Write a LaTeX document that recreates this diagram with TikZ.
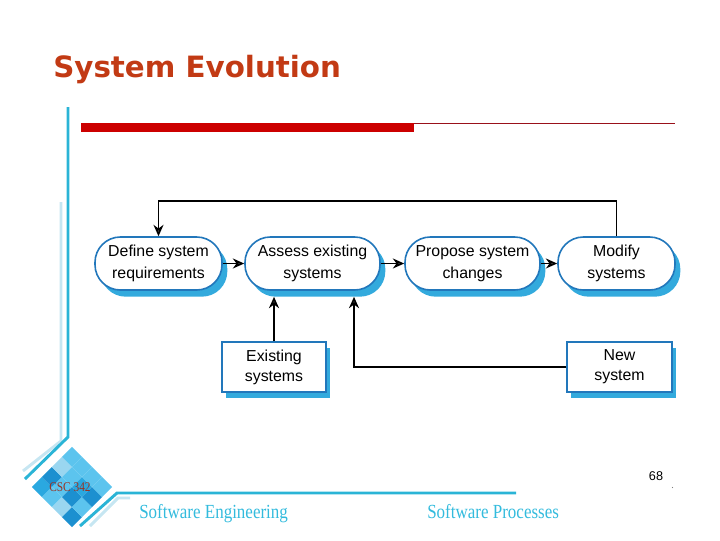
\documentclass[tikz,border=0pt]{standalone}
\usepackage{fontspec}
\setmainfont{Liberation Sans}
\newfontfamily\titlefont{DejaVu Sans}
\newfontfamily\footfont[FakeStretch=0.85]{Liberation Serif}
\usetikzlibrary{arrows.meta,shadows,calc}
\definecolor{titlec}{HTML}{C23A14}
\definecolor{barred}{HTML}{CC0000}
\definecolor{thinred}{HTML}{99111A}
\definecolor{bordc}{HTML}{2277BB}
\definecolor{shadc}{HTML}{33AADD}
\definecolor{decoc}{HTML}{2AB4D6}
\definecolor{decol}{HTML}{C6E6F2}
\definecolor{footc}{HTML}{33BBDD}
\definecolor{cscc}{HTML}{993322}
\definecolor{mos0}{HTML}{2AA8E0}
\definecolor{mos1}{HTML}{5CC4EE}
\definecolor{mos2}{HTML}{9AD6F0}
\definecolor{mos3}{HTML}{1C90D0}
\tikzset{
  proc/.style={draw=bordc, line width=1.2pt, fill=white, rounded corners=19pt,
    minimum height=39.75pt, align=center, inner sep=2pt,
    font=\fontsize{11.9}{16.2}\selectfont,
    drop shadow={shadow xshift=4pt, shadow yshift=-5pt, fill=shadc, opacity=1}},
  sysbox/.style={draw=bordc, line width=1pt, fill=white,
    minimum height=37.5pt, align=center, inner sep=2pt,
    font=\fontsize{11.9}{15}\selectfont,
    drop shadow={shadow xshift=3pt, shadow yshift=-4.5pt, fill=shadc, opacity=1}},
  conn/.style={line width=1.3pt, draw=black},
  arr/.style={conn, -{Stealth[open, length=8.5pt, width=7.5pt]}},
  foot/.style={text=footc, font=\footfont\fontsize{15}{15}\selectfont, inner sep=0pt}
}
\begin{document}
\begin{tikzpicture}[x=0.75pt,y=-0.75pt]
\useasboundingbox (0,0) rectangle (720,540);

% title
\node[anchor=base west, inner sep=0pt, text=titlec, font=\titlefont\bfseries\fontsize{22}{22}\selectfont] (title) at (53,77) {System Evolution};

% red bar
\fill[barred] (81,123) rectangle (414,132);
\draw[thinred, line width=0.8pt] (414,123.5) -- (675,123.5);

% left decoration
\draw[decol, line width=2.2pt] (61,202) -- (61,441) -- (23,471);
\draw[decoc, line width=2.2pt] (68,107) -- (68,437) -- (25,479);
\draw[decol, line width=2.2pt] (130,498) -- (118,498) -- (90,526);
\draw[decoc, line width=2.2pt] (516,493) -- (117,493) -- (80,526);

% mosaic diamond
\begin{scope}[shift={(72,487)}, rotate=45]
  \foreach \i in {0,...,3} {
    \foreach \j in {0,...,3} {
      \pgfmathtruncatemacro\k{mod(\i*3+\j*5+\i*\j,4)}
      \fill[mos\k] (-28.3+\i*14.15,-28.3+\j*14.15) rectangle ++(14.15,14.15);
    }
  }
\end{scope}
\node[text=cscc, font=\footfont\fontsize{10}{10}\selectfont, inner sep=0pt] (csc) at (70,487) {CSC 342};

% footer
\node[foot, anchor=base west] (fse) at (139,518) {Software Engineering};
\node[foot, anchor=base west] (fsp) at (427,518) {Software Processes};
\node[anchor=base, inner sep=0pt, font=\fontsize{9.5}{9.5}\selectfont] (pg) at (656,480) {68};
\fill[gray] (672.5,487.5) circle (0.7);

% process nodes
\node[proc, minimum width=95.25pt] (n1) at (158.5,263.5) {Define system\\requirements};
\node[proc, minimum width=101.25pt] (n2) at (312.5,263.5) {Assess existing\\systems};
\node[proc, minimum width=101.25pt] (n3) at (472.5,263.5) {Propose system\\changes};
\node[proc, minimum width=87.75pt] (n4) at (616.5,263.5) {Modify\\systems};

\node[sysbox, minimum width=78pt] (ex) at (274,367) {Existing\\systems};
\node[sysbox, minimum width=78.75pt] (nw) at (619.5,367) {New\\system};

% connectors
\draw[arr] (n1) -- (n2);
\draw[arr] (n2) -- (n3);
\draw[arr] (n3) -- (n4);
\draw[arr] (n4.north) -- ++(0,-35) -| (n1.north);
\draw[arr, shorten >=4.5pt] (ex.north) -- (ex.north |- n2.south);
\draw[arr, shorten >=4.5pt] (nw.west) -| ($(n2.south)+(41.5,0)$);
\end{tikzpicture}
\end{document}
